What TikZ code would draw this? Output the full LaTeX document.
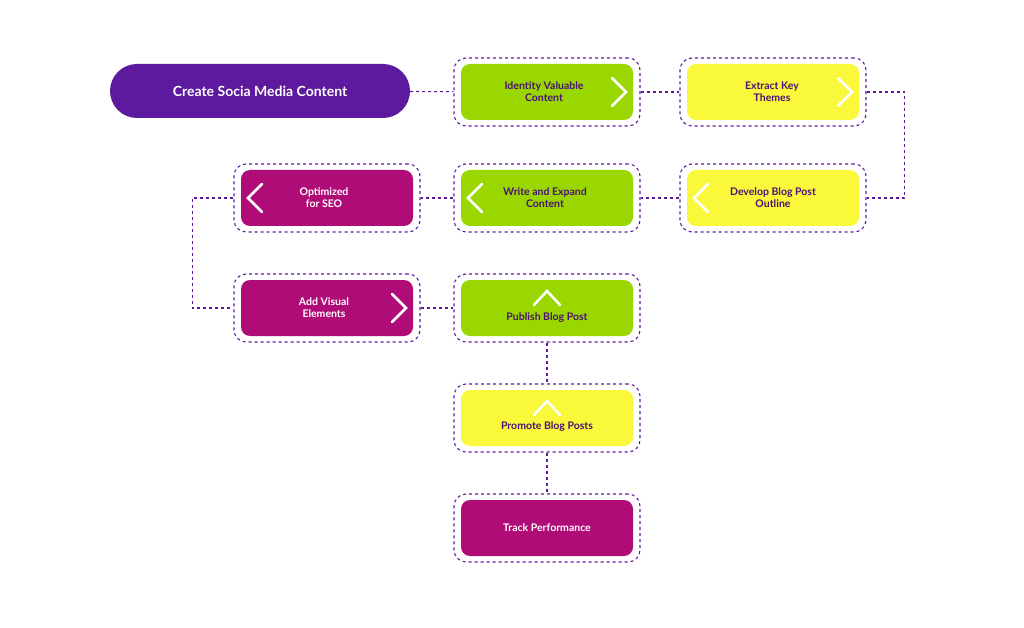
\documentclass[tikz,border=0pt]{standalone}
\usepackage{fontspec}
\setmainfont{Lato}
\usetikzlibrary{positioning}

\definecolor{mypurple}{HTML}{5E1A9E}
\definecolor{mygreen}{HTML}{9AD600}
\definecolor{myyellow}{HTML}{FAF83A}
\definecolor{mymagenta}{HTML}{B00C78}
\definecolor{mytext}{HTML}{4A1470}

\tikzset{
  outer/.style={draw=mypurple, dashed, line width=1.1pt, rounded corners=12pt,
    minimum width=186pt, minimum height=68pt},
  inner/.style={rounded corners=9pt, minimum width=172pt, minimum height=56pt},
  txt/.style={align=center, font=\fontsize{10.5}{12}\selectfont\bfseries, text=mytext},
  link/.style={draw=mypurple, dashed, line width=1.1pt},
  chev/.style={draw=white, line width=2.6pt, line cap=round, line join=miter}
}

\begin{document}
\begin{tikzpicture}[x=1pt,y=-1pt]
  \useasboundingbox (0,0) rectangle (1024,628);

  % start node
  \node[fill=mypurple, rounded corners=27pt, minimum width=300pt, minimum height=54pt,
        text=white, font=\fontsize{14}{16}\selectfont\bfseries] (start) at (260,91) {Create Socia Media Content};

  % boxes
  \foreach \n/\x/\y/\c in {ivc/547/92/mygreen, ekt/773/92/myyellow,
      dbo/773/198/myyellow, wec/547/198/mygreen, seo/327/198/mymagenta,
      ave/327/308/mymagenta, pbp/547/308/mygreen, prp/547/418/myyellow,
      trk/547/528/mymagenta} {
    \node[outer] (\n) at (\x,\y) {};
    \node[inner, fill=\c] (\n-in) at (\n) {};
  }

  % texts
  \node[txt] (t-ivc) at ([xshift=-3pt]ivc) {Identity Valuable\\Content};
  \node[txt] (t-ekt) at ([xshift=-1pt]ekt) {Extract Key\\Themes};
  \node[txt] (t-dbo) at ([xshift=0pt]dbo) {Develop Blog Post\\Outline};
  \node[txt] (t-wec) at ([xshift=-2pt]wec) {Write and Expand\\Content};
  \node[txt, text=white] (t-seo) at ([xshift=-3pt]seo) {Optimized\\for SEO};
  \node[txt, text=white] (t-ave) at ([xshift=-3pt]ave) {Add Visual\\Elements};
  \node[txt] (t-pbp) at ([yshift=-10pt]pbp) {Publish Blog Post};
  \node[txt] (t-prp) at ([yshift=-9pt]prp) {Promote Blog Posts};
  \node[txt, text=white] (t-trk) at (trk) {Track Performance};

  % chevrons
  \foreach \n in {ivc, ekt, ave}
    \draw[chev] ([xshift=65pt,yshift=-14pt]\n.center) -- ([xshift=79pt]\n.center) -- ([xshift=65pt,yshift=14pt]\n.center);
  \foreach \n in {dbo, wec, seo}
    \draw[chev] ([xshift=-65pt,yshift=-14pt]\n.center) -- ([xshift=-79pt]\n.center) -- ([xshift=-65pt,yshift=14pt]\n.center);
  \foreach \n in {pbp, prp}
    \draw[chev] ([xshift=-13pt,yshift=3pt]\n.center) -- ([yshift=17pt]\n.center) -- ([xshift=13pt,yshift=3pt]\n.center);

  % connectors
  \draw[link] (start) -- (ivc);
  \draw[link] (ivc) -- (ekt);
  \draw[link] (ekt.east) -- ++(38,0) |- (dbo.east);
  \draw[link] (dbo) -- (wec);
  \draw[link] (wec) -- (seo);
  \draw[link] (seo.west) -- ++(-41,0) |- (ave.west);
  \draw[link] (ave) -- (pbp);
  \draw[link] (pbp) -- (prp);
  \draw[link] (prp) -- (trk);
\end{tikzpicture}
\end{document}
